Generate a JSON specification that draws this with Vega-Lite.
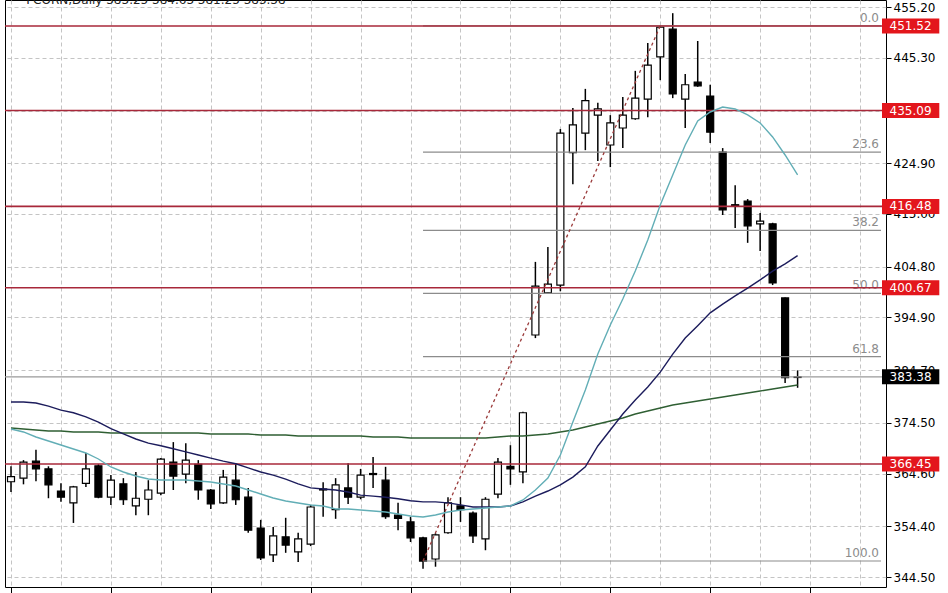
{
  "$schema": "https://vega.github.io/schema/vega-lite/v6.json",
  "width": 881,
  "height": 587,
  "autosize": {"type": "none"},
  "padding": {"left": 5, "top": 0, "right": 62, "bottom": 6},
  "background": "white",
  "config": {"view": {"stroke": "#000000", "strokeWidth": 1}, "font": "DejaVu Sans"},
  "title": {"text": "FCORN,Daily  383.25 384.63 381.25 383.38", "anchor": "start", "dx": 22, "offset": -7, "fontSize": 12, "fontWeight": "normal", "font": "DejaVu Sans", "color": "#222222"},
  "datasets": {
    "candles": [
      {"i": 0, "o": 363.0, "h": 366.0, "l": 361.0, "c": 364.0},
      {"i": 1, "o": 363.7, "h": 367.2, "l": 362.5, "c": 366.8},
      {"i": 2, "o": 367.0, "h": 369.2, "l": 363.1, "c": 365.5},
      {"i": 3, "o": 365.5, "h": 366.0, "l": 359.8, "c": 362.4},
      {"i": 4, "o": 361.2, "h": 362.7, "l": 359.1, "c": 360.0},
      {"i": 5, "o": 358.9, "h": 362.2, "l": 355.0, "c": 362.0},
      {"i": 6, "o": 362.7, "h": 368.6, "l": 362.0, "c": 365.5},
      {"i": 7, "o": 366.1, "h": 366.4, "l": 359.8, "c": 360.0},
      {"i": 8, "o": 360.0, "h": 364.3, "l": 358.5, "c": 363.3},
      {"i": 9, "o": 362.6, "h": 363.7, "l": 358.5, "c": 359.5},
      {"i": 10, "o": 358.3, "h": 364.9, "l": 356.5, "c": 359.8},
      {"i": 11, "o": 359.6, "h": 363.3, "l": 356.5, "c": 361.4},
      {"i": 12, "o": 360.8, "h": 367.6, "l": 360.4, "c": 367.4},
      {"i": 13, "o": 366.8, "h": 370.7, "l": 361.4, "c": 364.1},
      {"i": 14, "o": 364.5, "h": 370.5, "l": 362.7, "c": 367.2},
      {"i": 15, "o": 366.4, "h": 367.2, "l": 359.5, "c": 361.4},
      {"i": 16, "o": 361.4, "h": 361.6, "l": 357.7, "c": 358.7},
      {"i": 17, "o": 358.9, "h": 365.3, "l": 358.7, "c": 363.9},
      {"i": 18, "o": 363.3, "h": 366.6, "l": 358.5, "c": 359.5},
      {"i": 19, "o": 360.0, "h": 361.8, "l": 353.1, "c": 353.6},
      {"i": 20, "o": 354.0, "h": 355.6, "l": 347.8, "c": 348.2},
      {"i": 21, "o": 348.8, "h": 354.2, "l": 347.4, "c": 352.5},
      {"i": 22, "o": 352.3, "h": 356.0, "l": 349.2, "c": 350.7},
      {"i": 23, "o": 349.4, "h": 353.1, "l": 347.4, "c": 351.9},
      {"i": 24, "o": 350.9, "h": 358.5, "l": 350.5, "c": 358.1},
      {"i": 25, "o": 361.6, "h": 362.9, "l": 356.2, "c": 361.4},
      {"i": 26, "o": 357.6, "h": 363.7, "l": 355.8, "c": 362.4},
      {"i": 27, "o": 361.8, "h": 366.6, "l": 358.7, "c": 360.0},
      {"i": 28, "o": 360.0, "h": 365.5, "l": 359.6, "c": 364.3},
      {"i": 29, "o": 364.6, "h": 367.8, "l": 361.8, "c": 364.4},
      {"i": 30, "o": 363.3, "h": 365.9, "l": 355.8, "c": 356.2},
      {"i": 31, "o": 356.5, "h": 358.9, "l": 353.6, "c": 355.9},
      {"i": 32, "o": 355.2, "h": 356.2, "l": 351.3, "c": 352.1},
      {"i": 33, "o": 352.1, "h": 352.3, "l": 346.1, "c": 347.6},
      {"i": 34, "o": 348.0, "h": 353.0, "l": 346.5, "c": 352.7},
      {"i": 35, "o": 353.1, "h": 360.0, "l": 352.9, "c": 358.9},
      {"i": 36, "o": 358.3, "h": 360.0, "l": 355.2, "c": 357.6},
      {"i": 37, "o": 356.9, "h": 357.2, "l": 351.1, "c": 352.5},
      {"i": 38, "o": 351.9, "h": 360.0, "l": 349.7, "c": 359.6},
      {"i": 39, "o": 360.6, "h": 367.6, "l": 359.8, "c": 366.8},
      {"i": 40, "o": 366.0, "h": 370.1, "l": 362.4, "c": 365.5},
      {"i": 41, "o": 364.9, "h": 376.6, "l": 362.7, "c": 376.4},
      {"i": 42, "o": 391.5, "h": 405.7, "l": 390.9, "c": 401.0},
      {"i": 43, "o": 399.7, "h": 408.6, "l": 399.5, "c": 401.4},
      {"i": 44, "o": 401.2, "h": 431.5, "l": 400.0, "c": 430.7},
      {"i": 45, "o": 426.9, "h": 435.6, "l": 420.8, "c": 432.3},
      {"i": 46, "o": 430.7, "h": 439.3, "l": 427.4, "c": 437.0},
      {"i": 47, "o": 434.2, "h": 436.6, "l": 425.3, "c": 435.4},
      {"i": 48, "o": 428.4, "h": 434.2, "l": 424.1, "c": 432.7},
      {"i": 49, "o": 431.7, "h": 437.7, "l": 427.8, "c": 434.2},
      {"i": 50, "o": 433.5, "h": 442.8, "l": 433.3, "c": 437.5},
      {"i": 51, "o": 437.3, "h": 448.2, "l": 433.8, "c": 443.9},
      {"i": 52, "o": 445.5, "h": 451.6, "l": 441.0, "c": 451.3},
      {"i": 53, "o": 450.9, "h": 454.0, "l": 437.5, "c": 438.3},
      {"i": 54, "o": 437.3, "h": 442.2, "l": 431.7, "c": 440.1},
      {"i": 55, "o": 440.6, "h": 448.6, "l": 439.7, "c": 439.9},
      {"i": 56, "o": 437.9, "h": 440.1, "l": 428.8, "c": 430.9},
      {"i": 57, "o": 427.0, "h": 427.8, "l": 414.8, "c": 415.8},
      {"i": 58, "o": 416.8, "h": 420.6, "l": 412.3, "c": 416.6},
      {"i": 59, "o": 417.5, "h": 417.9, "l": 409.4, "c": 412.7},
      {"i": 60, "o": 413.1, "h": 415.2, "l": 407.8, "c": 413.6},
      {"i": 61, "o": 413.1, "h": 413.3, "l": 401.2, "c": 401.6},
      {"i": 62, "o": 398.7, "h": 398.8, "l": 382.2, "c": 383.2},
      {"i": 63, "o": 383.25, "h": 384.63, "l": 381.25, "c": 383.38}
    ],
    "ma": [
      {"i": 0, "fast": 373.25, "mid": 378.5, "slow": 373.44},
      {"i": 1, "fast": 372.67, "mid": 378.5, "slow": 373.25},
      {"i": 2, "fast": 371.69, "mid": 378.3, "slow": 373.05},
      {"i": 3, "fast": 370.92, "mid": 377.7, "slow": 372.86},
      {"i": 4, "fast": 370.14, "mid": 376.9, "slow": 372.86},
      {"i": 5, "fast": 369.36, "mid": 376.4, "slow": 372.67},
      {"i": 6, "fast": 368.59, "mid": 375.6, "slow": 372.67},
      {"i": 7, "fast": 367.42, "mid": 374.6, "slow": 372.67},
      {"i": 8, "fast": 365.87, "mid": 373.3, "slow": 372.47},
      {"i": 9, "fast": 364.90, "mid": 372.3, "slow": 372.47},
      {"i": 10, "fast": 364.12, "mid": 371.3, "slow": 372.47},
      {"i": 11, "fast": 363.54, "mid": 370.5, "slow": 372.47},
      {"i": 12, "fast": 363.34, "mid": 370.0, "slow": 372.47},
      {"i": 13, "fast": 363.34, "mid": 369.4, "slow": 372.47},
      {"i": 14, "fast": 363.34, "mid": 368.8, "slow": 372.47},
      {"i": 15, "fast": 363.15, "mid": 368.2, "slow": 372.47},
      {"i": 16, "fast": 362.95, "mid": 367.6, "slow": 372.28},
      {"i": 17, "fast": 362.57, "mid": 367.0, "slow": 372.28},
      {"i": 18, "fast": 362.18, "mid": 366.5, "slow": 372.28},
      {"i": 19, "fast": 361.40, "mid": 365.7, "slow": 372.28},
      {"i": 20, "fast": 360.62, "mid": 364.9, "slow": 372.08},
      {"i": 21, "fast": 359.85, "mid": 364.3, "slow": 372.08},
      {"i": 22, "fast": 359.27, "mid": 363.5, "slow": 372.08},
      {"i": 23, "fast": 358.88, "mid": 362.6, "slow": 371.89},
      {"i": 24, "fast": 358.49, "mid": 361.8, "slow": 371.89},
      {"i": 25, "fast": 358.29, "mid": 361.6, "slow": 371.89},
      {"i": 26, "fast": 357.71, "mid": 361.4, "slow": 371.89},
      {"i": 27, "fast": 357.71, "mid": 361.0, "slow": 371.89},
      {"i": 28, "fast": 357.52, "mid": 360.4, "slow": 371.89},
      {"i": 29, "fast": 357.32, "mid": 360.2, "slow": 371.69},
      {"i": 30, "fast": 357.13, "mid": 360.0, "slow": 371.69},
      {"i": 31, "fast": 356.74, "mid": 359.7, "slow": 371.69},
      {"i": 32, "fast": 356.35, "mid": 359.3, "slow": 371.50},
      {"i": 33, "fast": 356.16, "mid": 359.1, "slow": 371.50},
      {"i": 34, "fast": 356.55, "mid": 359.1, "slow": 371.50},
      {"i": 35, "fast": 357.13, "mid": 358.9, "slow": 371.50},
      {"i": 36, "fast": 357.52, "mid": 358.5, "slow": 371.50},
      {"i": 37, "fast": 357.71, "mid": 358.1, "slow": 371.50},
      {"i": 38, "fast": 357.91, "mid": 358.1, "slow": 371.50},
      {"i": 39, "fast": 358.10, "mid": 358.1, "slow": 371.69},
      {"i": 40, "fast": 358.29, "mid": 358.3, "slow": 371.89},
      {"i": 41, "fast": 359.46, "mid": 359.1, "slow": 371.89},
      {"i": 42, "fast": 361.40, "mid": 360.2, "slow": 372.08},
      {"i": 43, "fast": 363.73, "mid": 361.2, "slow": 372.28},
      {"i": 44, "fast": 368.20, "mid": 362.4, "slow": 372.67},
      {"i": 45, "fast": 374.61, "mid": 363.9, "slow": 373.05},
      {"i": 46, "fast": 380.82, "mid": 365.9, "slow": 373.64},
      {"i": 47, "fast": 387.81, "mid": 369.95, "slow": 374.22},
      {"i": 48, "fast": 393.45, "mid": 373.05, "slow": 374.80},
      {"i": 49, "fast": 398.50, "mid": 376.16, "slow": 375.38},
      {"i": 50, "fast": 403.93, "mid": 378.88, "slow": 376.16},
      {"i": 51, "fast": 409.95, "mid": 381.4, "slow": 376.74},
      {"i": 52, "fast": 416.75, "mid": 384.3, "slow": 377.33},
      {"i": 53, "fast": 422.58, "mid": 387.8, "slow": 377.91},
      {"i": 54, "fast": 428.40, "mid": 390.9, "slow": 378.30},
      {"i": 55, "fast": 433.07, "mid": 393.3, "slow": 378.69},
      {"i": 56, "fast": 434.81, "mid": 395.8, "slow": 379.07},
      {"i": 57, "fast": 435.78, "mid": 397.5, "slow": 379.46},
      {"i": 58, "fast": 435.40, "mid": 399.1, "slow": 379.85},
      {"i": 59, "fast": 434.23, "mid": 400.6, "slow": 380.24},
      {"i": 60, "fast": 432.68, "mid": 402.2, "slow": 380.63},
      {"i": 61, "fast": 429.96, "mid": 403.9, "slow": 381.02},
      {"i": 62, "fast": 426.46, "mid": 405.3, "slow": 381.41},
      {"i": 63, "fast": 422.58, "mid": 406.9, "slow": 381.79}
    ],
    "levels": [{"v": 451.52}, {"v": 435.09}, {"v": 416.48}, {"v": 400.67}, {"v": 366.45}],
    "price": [{"v": 383.38}],
    "fib": [
      {"v": 451.52, "lab": "0.0"},
      {"v": 427.0, "lab": "23.6"},
      {"v": 411.83, "lab": "38.2"},
      {"v": 399.57, "lab": "50.0"},
      {"v": 387.3, "lab": "61.8"},
      {"v": 347.61, "lab": "100.0"}
    ],
    "trend": [{"i": 33, "p": 347.61}, {"i": 52, "p": 451.52}]
  },
  "layer": [
    {
      "data": {"name": "candles"},
      "mark": {"type": "rule", "color": "#000000", "strokeWidth": 1.5},
      "encoding": {
        "x": {
          "field": "i", "type": "quantitative", "title": null,
          "scale": {"domain": [-0.08, 69.68], "nice": false, "zero": false},
          "axis": {
            "orient": "bottom",
            "values": [0, 4, 8, 12, 16, 20, 24, 28, 32, 36, 40, 44, 48, 52, 56, 60, 64, 68],
            "grid": true, "gridColor": "#c4c4c4", "gridDash": [4, 3], "gridWidth": 1,
            "labels": false, "domain": false,
            "tickSize": 6, "tickColor": "#000000", "tickWidth": 1,
            "tickOpacity": {"condition": {"test": "datum.value % 8 === 0", "value": 1}, "value": 0}
          }
        },
        "y": {
          "field": "l", "type": "quantitative", "title": null,
          "scale": {"domain": [342.56, 456.56], "nice": false, "zero": false},
          "axis": {
            "orient": "right",
            "values": [344.5, 354.4, 364.6, 374.5, 384.7, 394.9, 404.8, 415.0, 424.9, 435.1, 445.3, 455.2],
            "format": ".2f",
            "grid": true, "gridColor": "#c4c4c4", "gridDash": [4, 3], "gridWidth": 1,
            "domain": false, "tickSize": 5, "tickColor": "#000000",
            "labelColor": "#000000", "labelFontSize": 12, "labelFont": "DejaVu Sans",
            "labelPadding": 2, "labelFlush": false, "labelOverlap": false
          }
        },
        "y2": {"field": "h"}
      }
    },
    {
      "data": {"name": "candles"},
      "mark": {"type": "bar", "width": 7, "stroke": "#000000", "strokeWidth": 1.2},
      "encoding": {
        "x": {"field": "i", "type": "quantitative", "title": null},
        "y": {"field": "o", "type": "quantitative", "title": null},
        "y2": {"field": "c"},
        "fill": {"condition": {"test": "datum.c >= datum.o", "value": "#ffffff"}, "value": "#000000"}
      }
    },
    {
      "data": {"name": "fib"},
      "mark": {"type": "rule", "color": "#8c8c8c", "strokeWidth": 1.2},
      "encoding": {
        "x": {"datum": 33},
        "x2": {"datum": 69.68},
        "y": {"field": "v", "type": "quantitative", "title": null}
      }
    },
    {
      "data": {"name": "fib"},
      "mark": {"type": "text", "align": "right", "baseline": "bottom", "dy": -1, "fontSize": 12, "color": "#8c8c8c"},
      "encoding": {
        "x": {"datum": 69.52},
        "y": {"field": "v", "type": "quantitative", "title": null},
        "text": {"field": "lab"}
      }
    },
    {
      "data": {"name": "price"},
      "mark": {"type": "rule", "color": "#9a9a9a", "strokeWidth": 1.2},
      "encoding": {"y": {"field": "v", "type": "quantitative", "title": null}}
    },
    {
      "data": {"name": "levels"},
      "mark": {"type": "rule", "color": "#a8283a", "strokeWidth": 1.6},
      "encoding": {"y": {"field": "v", "type": "quantitative", "title": null}}
    },
    {
      "data": {"name": "ma"},
      "mark": {"type": "line", "color": "#2f5f33", "strokeWidth": 1.4},
      "encoding": {
        "x": {"field": "i", "type": "quantitative", "title": null},
        "y": {"field": "slow", "type": "quantitative", "title": null}
      }
    },
    {
      "data": {"name": "ma"},
      "mark": {"type": "line", "color": "#1c1c5c", "strokeWidth": 1.4},
      "encoding": {
        "x": {"field": "i", "type": "quantitative", "title": null},
        "y": {"field": "mid", "type": "quantitative", "title": null}
      }
    },
    {
      "data": {"name": "ma"},
      "mark": {"type": "line", "color": "#62aeb6", "strokeWidth": 1.4},
      "encoding": {
        "x": {"field": "i", "type": "quantitative", "title": null},
        "y": {"field": "fast", "type": "quantitative", "title": null}
      }
    },
    {
      "data": {"name": "trend"},
      "mark": {"type": "line", "color": "#9a3a3a", "strokeWidth": 1.3, "strokeDash": [3, 3]},
      "encoding": {
        "x": {"field": "i", "type": "quantitative", "title": null},
        "y": {"field": "p", "type": "quantitative", "title": null}
      }
    },
    {
      "data": {"name": "levels"},
      "mark": {"type": "rule", "color": "#e3161c", "strokeWidth": 15},
      "encoding": {
        "x": {"datum": 69.76},
        "x2": {"datum": 74.35},
        "y": {"field": "v", "type": "quantitative", "title": null}
      }
    },
    {
      "data": {"name": "price"},
      "mark": {"type": "rule", "color": "#000000", "strokeWidth": 15},
      "encoding": {
        "x": {"datum": 69.76},
        "x2": {"datum": 74.35},
        "y": {"field": "v", "type": "quantitative", "title": null}
      }
    },
    {
      "data": {"name": "levels"},
      "mark": {"type": "text", "align": "center", "baseline": "middle", "fontSize": 12, "color": "#ffffff"},
      "encoding": {
        "x": {"datum": 72.05},
        "y": {"field": "v", "type": "quantitative", "title": null},
        "text": {"field": "v", "format": ".2f"}
      }
    },
    {
      "data": {"name": "price"},
      "mark": {"type": "text", "align": "center", "baseline": "middle", "fontSize": 12, "color": "#ffffff"},
      "encoding": {
        "x": {"datum": 72.05},
        "y": {"field": "v", "type": "quantitative", "title": null},
        "text": {"field": "v", "format": ".2f"}
      }
    }
  ]
}
